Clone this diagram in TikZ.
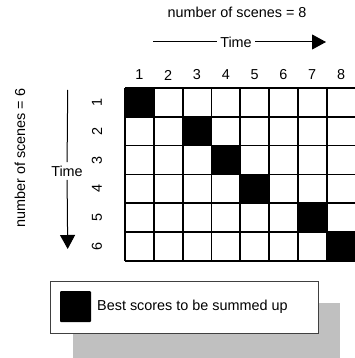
\documentclass[tikz,border=0pt]{standalone}
\usepackage{fontspec}
\setmainfont{Liberation Sans}
\usetikzlibrary{arrows.meta}
\definecolor{shadowgray}{HTML}{C0C0C0}
\begin{document}
\begin{tikzpicture}[x=1pt,y=-1pt,font=\fontsize{14.4}{17}\selectfont,
  gridline/.style={line width=1.8pt},
  timeline/.style={line width=1pt},
  timearrow/.style={line width=1pt,-{Triangle[length=14pt,width=15pt]}}]
\useasboundingbox (0,0) rectangle (355,358);
% best cells
\foreach \r/\c in {1/1,2/3,3/4,4/5,5/7,6/8}
  \fill (125+\c*28.8-28.8,88+\r*28.8-28.8) rectangle ++(28.8,28.8);
% grid
\foreach \c in {0,...,8} \draw[gridline] (125+\c*28.8,88) -- (125+\c*28.8,260.8);
\foreach \r in {0,...,6} \draw[gridline] (125,88+\r*28.8) -- (355.4,88+\r*28.8);
% column and row numbers
\foreach \c in {1,...,8} \node (col\c) at (125+\c*28.8-14.4,75) {\c};
\foreach \r in {1,...,6} \node[rotate=90] (row\r) at (97,88+\r*28.8-14.4) {\r};
% titles
\node (ntop) at (237,12) {number of scenes = 8};
\node[rotate=90] (nleft) at (20,158) {number of scenes = 6};
% time arrows
\node (ttop) at (236,42) {Time};
\coordinate (ttopa) at (153,42); \coordinate (ttopb) at (326,42);
\draw[timeline] (ttopa) -- (ttop); \draw[timearrow] (ttop) -- (ttopb);
\node (tleft) at (67,171) {Time};
\coordinate (tlefta) at (67.7,90); \coordinate (tleftb) at (67.7,249);
\draw[timeline] (tlefta) -- (tleft); \draw[timearrow] (tleft) -- (tleftb);
% legend
\fill[shadowgray] (73,303) rectangle (340,358);
\draw[fill=white,draw=black!75,line width=0.8pt] (50,281) rectangle (318,333);
\fill[rounded corners=1pt] (60,291) rectangle (91,322);
\node[anchor=west,inner sep=0pt] (legtext) at (97,307) {Best scores to be summed up};
\end{tikzpicture}
\end{document}
